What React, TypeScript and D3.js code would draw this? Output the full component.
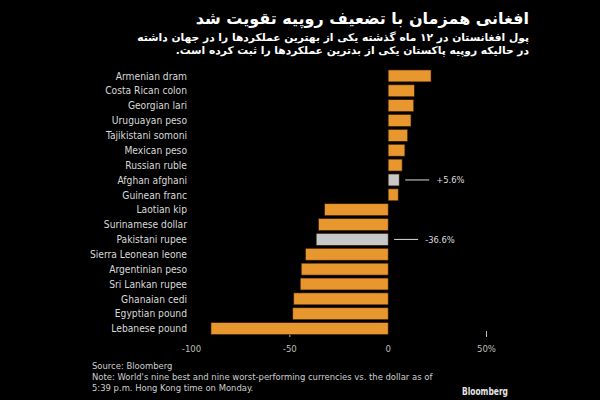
import React from 'react';
import * as d3 from 'd3';

// currencies, best to worst, % change vs the dollar
const currencies = [
  'Armenian dram', 'Costa Rican colon', 'Georgian lari', 'Uruguayan peso',
  'Tajikistani somoni', 'Mexican peso', 'Russian ruble', 'Afghan afghani',
  'Guinean franc', 'Laotian kip', 'Surinamese dollar', 'Pakistani rupee',
  'Sierra Leonean leone', 'Argentinian peso', 'Sri Lankan rupee',
  'Ghanaian cedi', 'Egyptian pound', 'Lebanese pound',
];
const changes = [
  21.8, 13.3, 13.0, 11.6, 9.9, 8.5, 7.1, 5.6, 5.1,
  -32.3, -35.4, -36.6, -42.0, -44.2, -44.7, -48.0, -48.5, -90.1,
];
const highlighted = ['Afghan afghani', 'Pakistani rupee'];
const axisTicks = [-100, -50, 0, 50];
const tickMarks = [-50, 50];

const title = 'افغانی همزمان با تضعیف روپیه تقویت شد';
const subtitle = [
  'پول افغانستان در ۱۲ ماه گذشته یکی از بهترین عملکردها را در جهان داشته',
  'در حالیکه روپیه پاکستان یکی از بدترین عملکردها را ثبت کرده است.',
];
const footer = [
  'Source: Bloomberg',
  "Note: World's nine best and nine worst-performing currencies vs. the dollar as of",
  '5:39 p.m. Hong Kong time on Monday.',
];

const W = 600;
const H = 400;
const ORANGE = '#e8962e';
const GREY = '#c8c8c8';
const FONT = '"DejaVu Sans Condensed", "DejaVu Sans", sans-serif';

export default function App() {
  const x = d3.scaleLinear().domain([-100, 50]).range([191.5, 486.5]);
  const y = d3.scaleBand().domain(currencies).range([67, 337.5]).padding(0.2);
  const rows = currencies.map((name, i) => ({ name, value: changes[i] }));

  return (
    <svg width={W} height={H} style={{ position: 'absolute', left: 0, top: 0, background: '#000' }}>
      <rect width={W} height={H} fill="#000" />

      {/* headline, right to left */}
      <g fill="#fff" fontFamily='"DejaVu Sans", sans-serif' fontWeight="bold" direction="rtl">
        <text x={529} y={24} fontSize={16} textAnchor="start">{title}</text>
        {subtitle.map((s, i) => (
          <text key={i} x={529} y={41 + i * 13} fontSize={10.7} textAnchor="start">{s}</text>
        ))}
      </g>

      {/* tick marks sit behind the bars */}
      {tickMarks.map(t => (
        <line key={t} x1={x(t)} x2={x(t)} y1={331} y2={337} stroke="#bbb" strokeWidth={1} />
      ))}

      {rows.map(d => {
        const hi = highlighted.includes(d.name);
        return (
          <rect key={d.name}
            x={x(Math.min(0, d.value))}
            y={y(d.name)!}
            width={Math.abs(x(d.value) - x(0))}
            height={y.bandwidth()}
            fill={hi ? GREY : ORANGE}
            stroke="#3a1c06" strokeWidth={0.6} />
        );
      })}

      <g fontFamily={FONT} fontSize={10.2} fill="#d8d8d8" textAnchor="end">
        {rows.map(d => (
          <text key={d.name} x={187} y={y(d.name)! + y.bandwidth() / 2 + 3.7}>{d.name}</text>
        ))}
      </g>

      {/* callouts for the two highlighted currencies */}
      {rows.filter(d => highlighted.includes(d.name)).map(d => {
        const cy = y(d.name)! + y.bandwidth() / 2;
        const x0 = x(Math.max(0, d.value)) + 6;
        const label = (d.value > 0 ? '+' : '') + d.value.toFixed(1) + '%';
        return (
          <g key={d.name}>
            <line x1={x0} x2={x0 + 24} y1={cy} y2={cy} stroke="#ddd" strokeWidth={1} />
            <text x={x0 + 31} y={cy + 3.4} fontFamily={FONT} fontSize={9.3} fill="#dcdcdc">{label}</text>
          </g>
        );
      })}

      <g fontFamily={FONT} fontSize={9.5} fill="#bdbdbd" textAnchor="middle">
        {axisTicks.map(t => (
          <text key={t} x={x(t)} y={352}>{t === 50 ? '50%' : t}</text>
        ))}
      </g>

      <g fontFamily={FONT} fontSize={9.4} fill="#cfcfcf">
        {footer.map((s, i) => (
          <text key={i} x={92} y={369 + i * 11}>{s}</text>
        ))}
      </g>
      <text x={508} y={395} textAnchor="end"
        fontFamily='"Liberation Sans Narrow", "DejaVu Sans Condensed", sans-serif'
        fontWeight="bold" fontSize={10.5} fill="#e6e6e6"
        textLength={46} lengthAdjust="spacingAndGlyphs">Bloomberg</text>
    </svg>
  );
}
